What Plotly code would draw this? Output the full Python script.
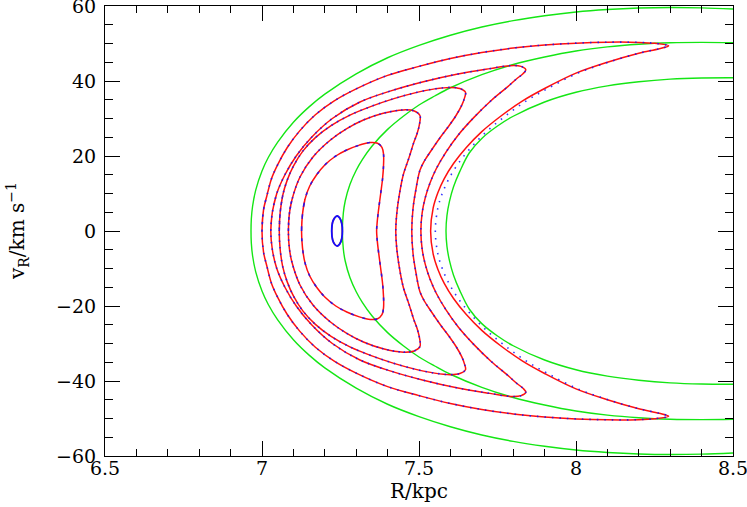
import plotly.graph_objects as go

# ---------------- data (upper halves; curves are symmetric in v_R) ----------------
# green: unperturbed tori, listed from the right edge to the left vertex
G1_R = [8.5, 8.4, 8.3, 8.2, 8.1, 8.0, 7.9, 7.8, 7.7, 7.6, 7.5, 7.4, 7.3, 7.2, 7.15, 7.1, 7.05, 7.02, 7.0, 6.98, 6.97, 6.966, 6.965]
G1_v = [59.2, 59.5, 59.6, 59.45, 59.05, 58.4, 57.4, 56.1, 54.4, 52.2, 49.5, 46.2, 41.9, 36.5, 33.1, 29.0, 23.7, 19.6, 16.0, 10.9, 6.6, 3.2, 0.0]
G2_R = [8.5, 8.4, 8.3, 8.2, 8.1, 8.0, 7.9, 7.8, 7.7, 7.6, 7.55, 7.5, 7.45, 7.4, 7.35, 7.32, 7.3, 7.28, 7.265, 7.259, 7.256]
G2_v = [50.2, 50.3, 50.2, 49.8, 49.1, 48.0, 46.4, 44.4, 41.7, 38.2, 36.0, 33.6, 30.6, 27.1, 22.6, 19.1, 16.2, 12.4, 8.0, 4.8, 0.0]
G3_R = [8.5, 8.4, 8.3, 8.2, 8.1, 8.0, 7.9, 7.8, 7.75, 7.7, 7.66, 7.63, 7.61, 7.597, 7.589, 7.586]
G3_v = [40.85, 40.8, 40.5, 39.8, 38.7, 37.0, 34.4, 30.6, 28.0, 24.7, 20.8, 15.9, 11.8, 7.9, 4.1, 0.0]

# red: perturbed tori, left vertex -> outer arc -> tip -> inner arc -> right vertex
E_R = [7.0, 7.005, 7.015, 7.03, 7.05, 7.08, 7.12, 7.17, 7.23, 7.3, 7.4, 7.5, 7.6, 7.7, 7.8, 7.9, 8.0,
       8.1, 8.2, 8.25, 8.295, 8.265, 8.2, 8.1, 8.0, 7.9, 7.83, 7.76, 7.7, 7.65, 7.61, 7.58, 7.56, 7.545, 7.537]
E_v = [0.0, 5.7, 9.2, 13.9, 17.7, 22.2, 26.7, 31.0, 34.7, 37.9, 41.5, 43.9, 46.0, 47.6, 48.8, 49.6, 50.1,
       50.35, 50.3, 50.05, 49.4, 48.6, 47.4, 45.0, 42.1, 38.0, 34.7, 30.6, 26.5, 22.2, 18.0, 13.9, 10.2, 6.1, 0.0]
D_R = [7.028, 7.033, 7.047, 7.073, 7.109, 7.158, 7.224, 7.312, 7.408, 7.514, 7.62, 7.726, 7.79, 7.825,
       7.84, 7.832, 7.811, 7.78, 7.73, 7.675, 7.625, 7.585, 7.555, 7.535, 7.52, 7.51, 7.506]
D_v = [0.0, 5.0, 10.0, 15.0, 20.0, 25.0, 30.0, 34.4, 37.3, 39.8, 41.8, 43.3, 44.1, 43.9,
       43.0, 42.0, 40.6, 38.3, 34.8, 30.3, 25.6, 20.9, 16.6, 12.8, 8.9, 4.8, 0.0]
C_R = [7.055, 7.058, 7.066, 7.08, 7.1, 7.13, 7.17, 7.22, 7.28, 7.35, 7.42, 7.49, 7.55, 7.6, 7.63,
       7.648, 7.645, 7.636, 7.618, 7.595, 7.568, 7.54, 7.518, 7.503, 7.49, 7.481, 7.477]
C_v = [0.0, 5.0, 9.5, 13.5, 17.3, 21.3, 24.9, 28.1, 30.9, 33.3, 35.3, 36.9, 37.9, 38.3, 38.0,
       37.0, 35.5, 33.5, 30.8, 28.0, 25.0, 21.6, 18.8, 16.2, 11.0, 6.0, 0.0]
B_R = [7.084, 7.087, 7.095, 7.121, 7.163, 7.217, 7.27, 7.323, 7.386, 7.45, 7.485, 7.503,
       7.502, 7.494, 7.483, 7.468, 7.45, 7.437, 7.429, 7.426]
B_v = [0.0, 4.5, 8.2, 14.4, 19.8, 24.2, 27.3, 29.6, 31.4, 32.3, 32.0, 30.8,
       28.7, 26.0, 23.5, 19.5, 15.0, 9.5, 4.5, 0.0]
A_R = [7.126, 7.129, 7.137, 7.152, 7.174, 7.2, 7.235, 7.27, 7.31, 7.345, 7.368, 7.382, 7.387,
       7.387, 7.384, 7.378, 7.371, 7.367, 7.365]
A_v = [0.0, 4.5, 8.5, 12.0, 15.0, 17.6, 20.0, 21.6, 22.9, 23.6, 23.4, 22.3, 20.5,
       17.5, 14.0, 10.0, 5.5, 2.5, 0.0]
L_R = [7.222, 7.225, 7.232, 7.24, 7.248, 7.254, 7.256]
L_v = [0.0, 2.4, 3.6, 4.0, 3.4, 2.0, 0.0]

# blue: orbit integration points; on the outermost orbit they sit slightly outside the red inner arc
EB_R = E_R[:21] + [8.265, 8.2, 8.103, 8.006, 7.91, 7.842, 7.774, 7.715, 7.665, 7.625, 7.595, 7.575, 7.56, 7.552]
EB_v = E_v[:21] + [48.6, 47.4, 45.0, 42.1, 38.0, 34.7, 30.6, 26.5, 22.2, 18.0, 13.9, 10.2, 6.1, 0.0]

X_TICKS = [6.5, 7, 7.5, 8, 8.5]
X_LABELS = ["6.5", "7", "7.5", "8", "8.5"]
Y_TICKS = [-60, -40, -20, 0, 20, 40, 60]
Y_LABELS = ["\u221260", "\u221240", "\u221220", "0", "20", "40", "60"]


def mirror_open(R, v):
    return R + R[::-1][1:], v + [-x for x in v[::-1][1:]]


def mirror_closed(R, v):
    rr = R + R[::-1][1:]
    vv = v + [-x for x in v[::-1][1:]]
    # overlap a little so the spline is smooth through the start point
    return rr + rr[1:3], vv + vv[1:3]


GREEN = "#14e614"
RED = "#ff1010"
BLUE = "#1010ff"

fig = go.Figure()
for R, v in [(G1_R, G1_v), (G2_R, G2_v), (G3_R, G3_v)]:
    rr, vv = mirror_open(R, v)
    fig.add_trace(go.Scatter(x=rr, y=vv, mode="lines", line=dict(color=GREEN, width=1.4, shape="spline", smoothing=1.0),
                             hoverinfo="skip", showlegend=False))

for R, v in [(E_R, E_v), (D_R, D_v), (C_R, C_v), (B_R, B_v), (A_R, A_v), (L_R, L_v)]:
    rr, vv = mirror_closed(R, v)
    fig.add_trace(go.Scatter(x=rr, y=vv, mode="lines", line=dict(color=RED, width=1.5, shape="spline", smoothing=1.0),
                             hoverinfo="skip", showlegend=False))

for (R, v), dash in [((EB_R, EB_v), "1.5px,6px"), ((D_R, D_v), "1.5px,5px"), ((C_R, C_v), "1.5px,5px"),
                     ((B_R, B_v), "1.5px,4px"), ((A_R, A_v), "3px,9px")]:
    rr, vv = mirror_closed(R, v)
    fig.add_trace(go.Scatter(x=rr, y=vv, mode="lines",
                             line=dict(color=BLUE, width=1.6, shape="spline", smoothing=1.0, dash=dash),
                             opacity=0.85, hoverinfo="skip", showlegend=False))
rr, vv = mirror_closed(L_R, L_v)
fig.add_trace(go.Scatter(x=rr, y=vv, mode="lines", line=dict(color=BLUE, width=1.8, shape="spline", smoothing=1.0),
                         hoverinfo="skip", showlegend=False))

FONT = "DejaVu Serif"
axis_common = dict(showline=True, linecolor="black", linewidth=1, mirror="allticks", ticks="inside",
                   tickcolor="black", tickwidth=1, showgrid=False, zeroline=False, ticklabeloverflow="allow",
                   tickfont=dict(family=FONT, size=19, color="black"), automargin=False)

fig.update_layout(
    width=747, height=507,
    margin=dict(l=105, r=14, t=6, b=51),
    paper_bgcolor="white", plot_bgcolor="white",
    xaxis=dict(range=[6.5, 8.5], tickvals=X_TICKS, ticktext=X_LABELS, ticklen=15,
               minor=dict(dtick=0.1, ticklen=7, tickcolor="black", ticks="inside", showgrid=False),
               ticklabelstandoff=-5, **axis_common),
    yaxis=dict(range=[-60, 60], tickvals=Y_TICKS, ticktext=Y_LABELS, ticklen=15,
               minor=dict(dtick=5, ticklen=8, tickcolor="black", ticks="inside", showgrid=False),
               ticklabelstandoff=4, **axis_common),
    annotations=[
        dict(text="R/kpc", xref="paper", yref="paper", x=0.5, y=-0.0785, showarrow=False,
             font=dict(family=FONT, size=20, color="black"), xanchor="center", yanchor="middle"),
        dict(text="v<sub>R</sub>/km s<sup>\u22121</sup>", xref="paper", yref="paper", x=-0.140, y=0.5,
             showarrow=False, textangle=-90, font=dict(family=FONT, size=20, color="black"),
             xanchor="center", yanchor="middle"),
    ],
)

fig.write_html("out.html", config={"displayModeBar": False},
               post_script="document.body.style.margin='0';document.body.style.padding='0';")
